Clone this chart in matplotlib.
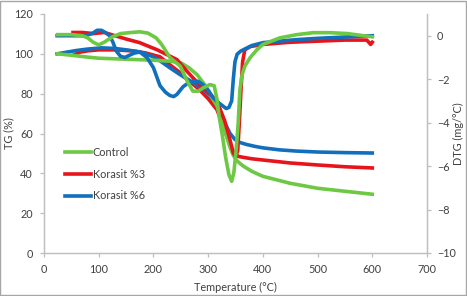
import numpy as np
import matplotlib
matplotlib.use('Agg')
import matplotlib.pyplot as plt
from matplotlib.patches import Rectangle

plt.rcParams['font.family'] = ['Lato', 'DejaVu Sans']

# TG curves (left axis, %)
t_tg_control = [25, 50, 75, 100, 150, 200, 230, 250, 265, 280, 295, 307, 316, 325, 333, 340, 346, 352, 358, 365, 380, 400, 450, 500, 550, 600]
tg_control = [100, 99.3, 98.5, 97.8, 97.3, 96.8, 96.3, 95.5, 93, 89.5, 84, 78, 74, 67, 59, 53, 49, 46.5, 45, 43.5, 41, 38.5, 35, 32.5, 31, 29.5]

t_tg_k3 = [55, 65, 80, 100, 130, 160, 185, 212, 230, 249, 265, 284, 300, 316, 326, 335, 342, 348, 355, 365, 380, 400, 450, 500, 550, 600]
tg_k3 = [99.5, 100.8, 101.5, 102, 102, 101.5, 100.5, 98.5, 94.5, 90.5, 86.5, 82, 77.5, 72, 65, 58, 53, 50, 48.5, 48, 47.3, 46.7, 45.2, 44.2, 43.3, 42.7]

t_tg_k6 = [24, 45, 60, 80, 105, 130, 150, 175, 200, 212, 230, 249, 267, 285, 298, 309, 320, 331, 340, 349, 358, 370, 386, 400, 430, 460, 500, 550, 600]
tg_k6 = [100, 101, 101.7, 102.4, 103, 102.7, 102, 101, 98.5, 96.5, 93, 89.5, 86.5, 83.4, 80.5, 77.5, 72, 65, 60, 57, 55.5, 54.5, 53.5, 52.8, 51.8, 51.2, 50.7, 50.4, 50.2]

# DTG curves (right axis, mg/°C)
t_dtg_control = [25, 50, 70, 80, 90, 100, 110, 125, 140, 160, 175, 190, 205, 215, 230, 249, 262, 272, 282, 291, 303, 311, 316, 320, 326, 332, 338, 343, 347, 351, 355, 358, 362, 367, 377, 389, 400, 431, 462, 492, 523, 554, 584, 600]
dtg_control = [0.05, 0.05, 0.0, -0.1, -0.3, -0.42, -0.3, -0.05, 0.1, 0.15, 0.18, 0.12, -0.1, -0.4, -1.0, -1.4, -2.1, -2.55, -2.55, -2.4, -2.25, -2.3, -2.9, -3.7, -4.6, -5.6, -6.4, -6.7, -6.3, -5.3, -4.0, -2.5, -1.8, -1.4, -1.0, -0.65, -0.4, -0.1, 0.05, 0.14, 0.14, 0.1, 0.0, -0.05]

t_dtg_k3 = [53, 70, 90, 110, 130, 150, 175, 207, 243, 260, 284, 300, 316, 330, 340, 346, 350, 354, 357, 360, 363, 367, 377, 400, 450, 500, 550, 590, 597, 600]
dtg_k3 = [0.15, 0.15, 0.1, 0.15, 0.0, -0.15, -0.32, -0.65, -1.1, -1.6, -2.26, -2.6, -3.0, -3.9, -4.8, -5.4, -5.55, -5.3, -4.0, -2.5, -1.2, -0.65, -0.5, -0.4, -0.3, -0.25, -0.2, -0.2, -0.4, -0.3]

t_dtg_k6 = [24, 50, 75, 88, 97, 105, 112, 120, 126, 132, 140, 148, 156, 165, 175, 188, 200, 212, 222, 230, 237, 243, 254, 265, 272, 282, 291, 300, 309, 320, 333, 338, 343, 346, 349, 353, 360, 364, 380, 400, 430, 462, 500, 550, 600]
dtg_k6 = [0.0, 0.0, 0.0, 0.1, 0.25, 0.25, 0.15, 0.0, -0.3, -0.7, -0.95, -1.0, -0.9, -0.8, -0.75, -1.0, -1.47, -2.3, -2.6, -2.75, -2.8, -2.7, -2.35, -2.15, -2.1, -2.1, -2.26, -2.5, -2.85, -3.1, -3.35, -3.3, -3.0, -2.0, -1.2, -0.85, -0.7, -0.65, -0.45, -0.32, -0.25, -0.18, -0.12, -0.06, 0.0]

labels = ['Control', 'Korasit %3', 'Korasit %6']
colors = ['#6DC843', '#E8141B', '#1170BE']

text_c = '#404040'
grid_c = '#BFBFBF'

fig = plt.figure(figsize=(4.67, 2.96), dpi=100)
ax = fig.add_axes([44/467, 1 - 253/296, (427-44)/467, (253-14)/296])
ax2 = ax.twinx()

lw = 2.6
l1, = ax.plot(t_tg_control, tg_control, color=colors[0], lw=lw, label=labels[0], zorder=3)
l2, = ax.plot(t_tg_k3, tg_k3, color=colors[1], lw=lw, label=labels[1], zorder=2)
l3, = ax.plot(t_tg_k6, tg_k6, color=colors[2], lw=lw, label=labels[2], zorder=2)

ax2.plot(t_dtg_k3, dtg_k3, color=colors[1], lw=lw)
ax2.plot(t_dtg_k6, dtg_k6, color=colors[2], lw=lw)
ax2.plot(t_dtg_control, dtg_control, color=colors[0], lw=lw)

ax.set_xlim(0, 700)
ax.set_ylim(0, 120)
ax.set_xticks(np.arange(0, 701, 100))
ax.set_yticks(np.arange(0, 121, 20))
ax2.set_ylim(-10, 1)
ax2.set_yticks(np.arange(-10, 1, 2))

for a in (ax, ax2):
    for s in a.spines.values():
        s.set_color(grid_c)
        s.set_linewidth(0.9)
    a.spines['top'].set_visible(False)
    a.tick_params(colors=grid_c, labelcolor=text_c, labelsize=7.8, length=3, width=0.9)
ax.tick_params(axis='y', pad=5)
ax.tick_params(axis='x', pad=5)
ax2.tick_params(axis='y', pad=4)

fig.text(235.5/467, 1 - 287/296, 'Temperature (°C)', fontsize=7.8, color=text_c,
         ha='center', va='center')
fig.text(9/467, 1 - 133.5/296, 'TG (%)', fontsize=7.8, color=text_c,
         ha='center', va='center', rotation=90)
fig.text(458/467, 1 - 133.5/296, 'DTG (mg/°C)', fontsize=7.8, color=text_c,
         ha='center', va='center', rotation=90)

leg = ax.legend(handles=[l1, l2, l3], loc='center left', bbox_to_anchor=(0.055, 0.33),
                frameon=False, fontsize=7.8, labelspacing=1.0, handlelength=2.4,
                handletextpad=0.15, borderpad=0, borderaxespad=0)
for t in leg.get_texts():
    t.set_color(text_c)

fig.patches.append(Rectangle((0.001, 0.002), 0.997, 0.995, transform=fig.transFigure,
                             fill=False, edgecolor='#A6A6A6', lw=1))

fig.savefig('out.png', dpi=100)
